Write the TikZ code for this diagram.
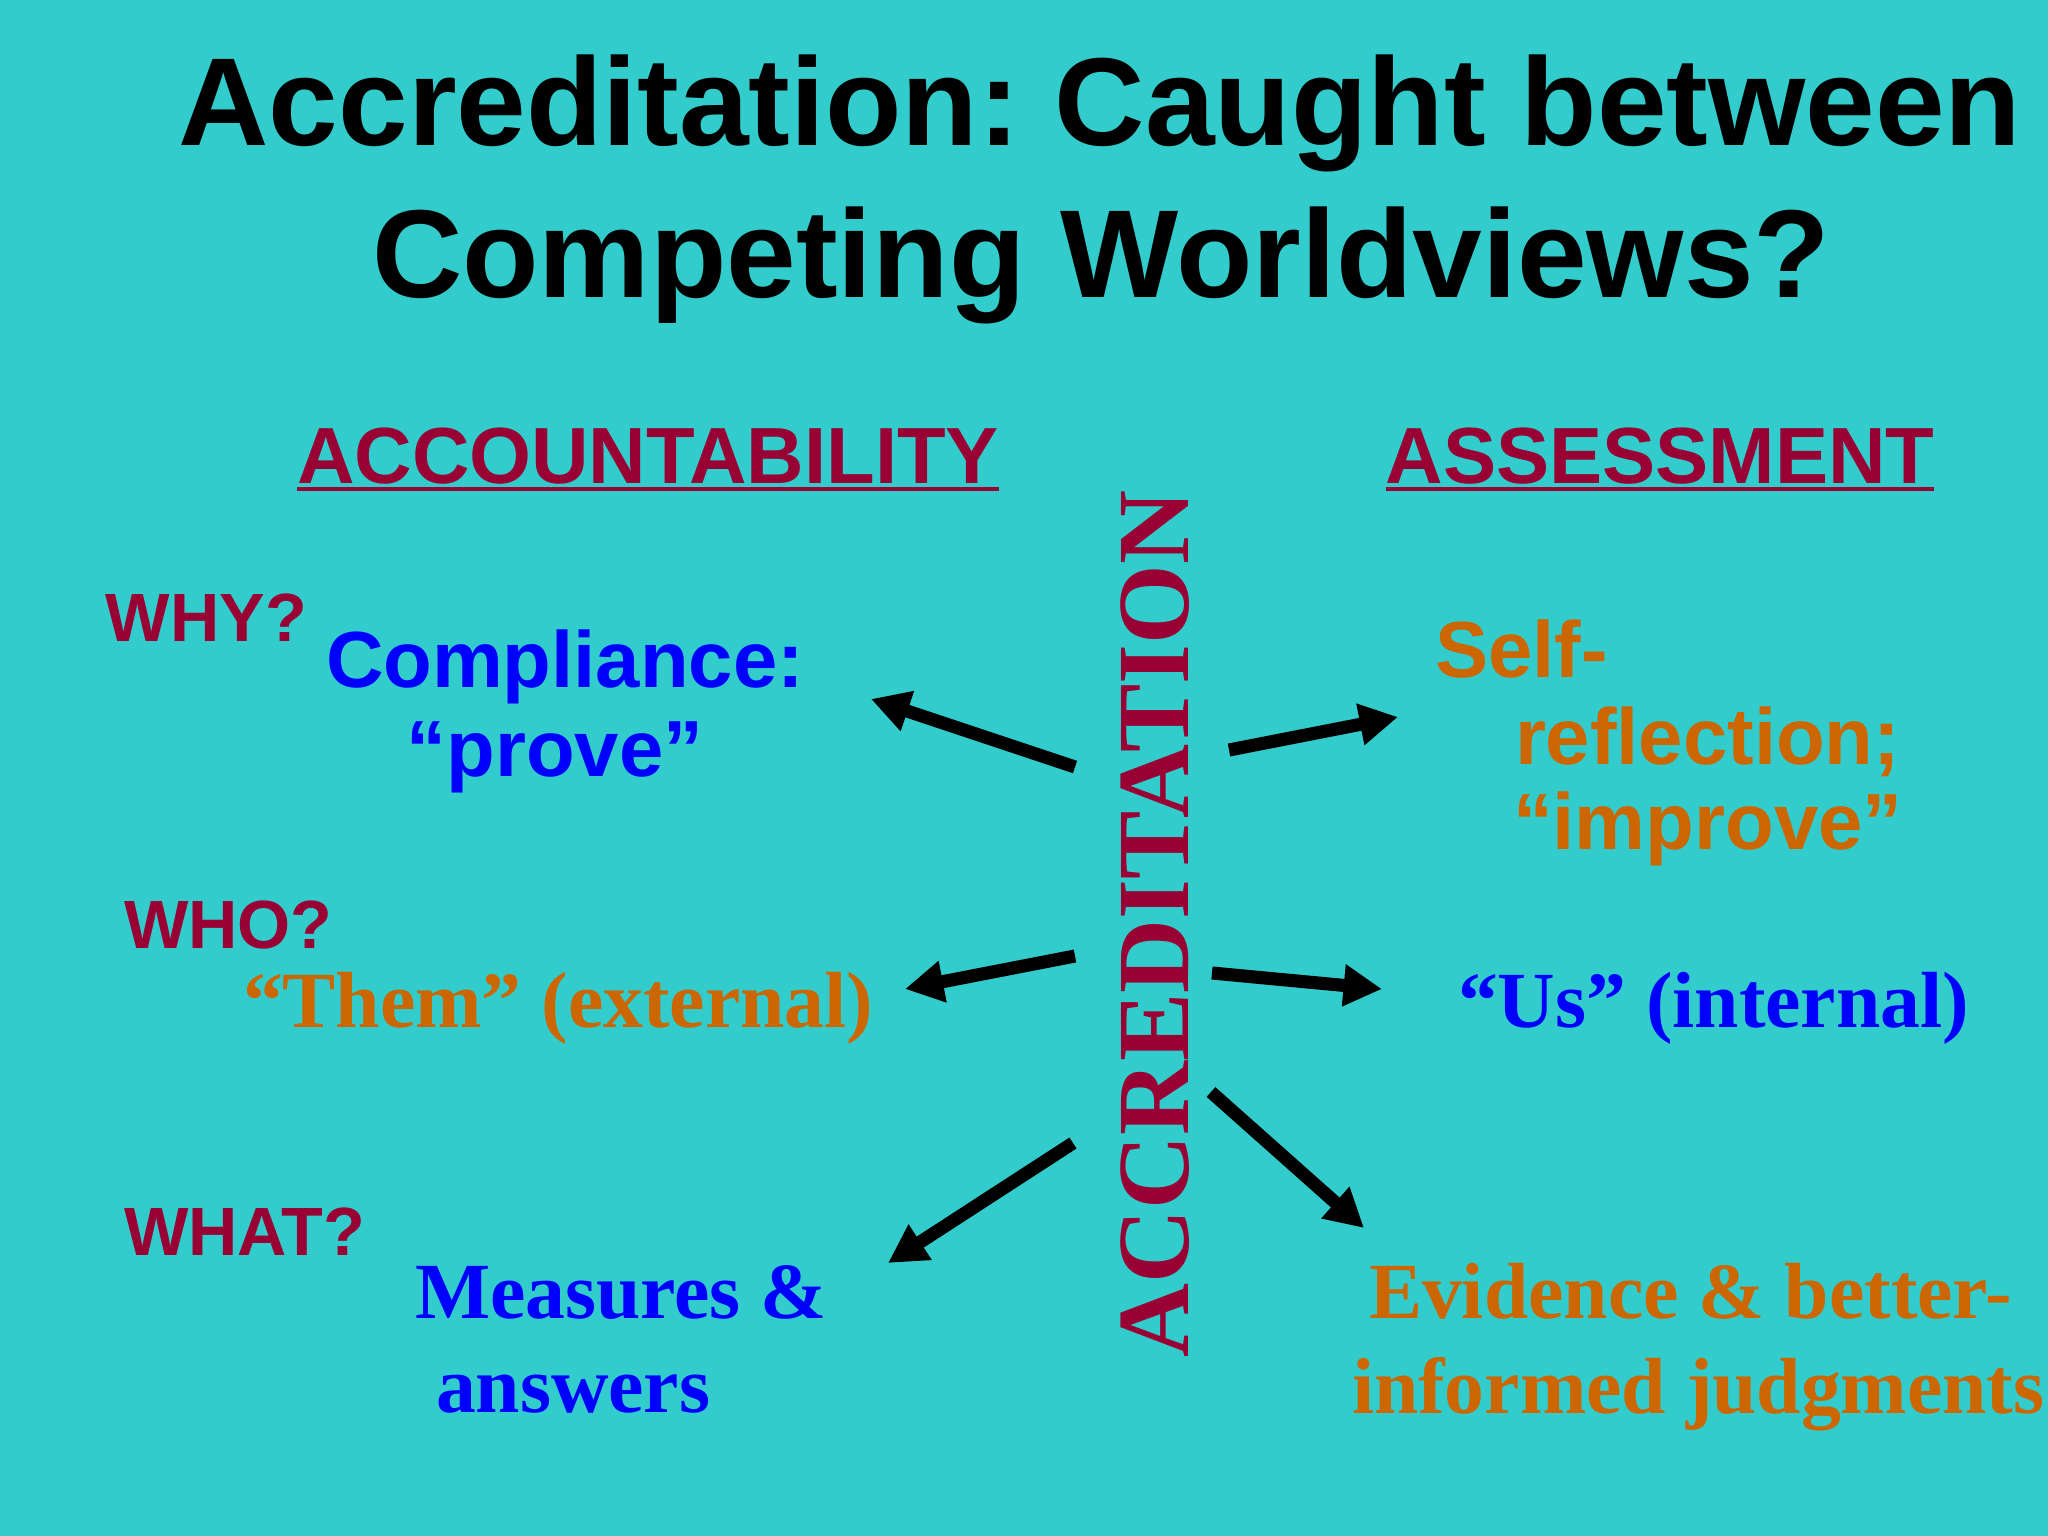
\documentclass[tikz,border=0pt]{standalone}
\usepackage{fontspec}
\setmainfont{Liberation Sans}
\newfontfamily\serifbf{Liberation Serif}
\usetikzlibrary{arrows.meta}
\definecolor{bgc}{HTML}{33CCCC}
\definecolor{crim}{HTML}{990033}
\definecolor{blu}{HTML}{0000FF}
\definecolor{org}{HTML}{CC6600}
\frenchspacing
\tikzset{
  base/.style={inner sep=0pt, outer sep=0pt},
  titletxt/.style={base, font=\fontsize{44bp}{53bp}\selectfont\bfseries, text=black},
  headtxt/.style={base, font=\fontsize{28bp}{34bp}\selectfont\bfseries, text=crim},
  qtxt/.style={base, font=\fontsize{24bp}{29bp}\selectfont\bfseries, text=crim},
  sanstxt/.style={base, font=\fontsize{28bp}{34bp}\selectfont\bfseries},
  seriftxt/.style={base, font=\fontsize{28bp}{34bp}\serifbf\bfseries\selectfont},
  vert/.style={base, font=\fontsize{36bp}{43bp}\serifbf\bfseries\selectfont, text=crim, rotate=90},
  uline/.style={draw=crim, line width=1.2bp},
  arr/.style={draw=black, line width=4.6bp, -{Triangle[length=13.5bp,width=14bp]}}
}
\begin{document}
\begin{tikzpicture}[x=0.3515625bp,y=-0.3515625bp]
\fill[bgc] (0,0) rectangle (2048,1536);
\useasboundingbox (0,0) rectangle (2048,1536);

% title
\node[titletxt, anchor=base] (t1) at (1100,146) {Accreditation: Caught between};
\node[titletxt, anchor=base] (t2) at (1101,297) {Competing Worldviews?};

% column heads
\node[headtxt, anchor=base] (acc) at (648,483) {ACCOUNTABILITY};
\node[headtxt, anchor=base] (ass) at (1660,483) {ASSESSMENT};
\draw[uline] ([yshift=-2.1bp]acc.base west) -- ([yshift=-2.1bp]acc.base east);
\draw[uline] ([yshift=-2.1bp]ass.base west) -- ([yshift=-2.1bp]ass.base east);

% questions
\node[qtxt, anchor=base west] (why) at (106,641) {WHY?};
\node[qtxt, anchor=base west] (who) at (124,948) {WHO?};
\node[qtxt, anchor=base west] (what) at (124,1255) {WHAT?};

% left column
\node[sanstxt, text=blu, anchor=base] (comp) at (565,687) {Compliance:};
\node[sanstxt, text=blu, anchor=base] (prove) at (555,776) {“prove”};
\node[seriftxt, text=org, anchor=base west] (them) at (243,1027) {“Them” (external)};
\node[seriftxt, text=blu, anchor=base west] (meas) at (415,1318) {Measures \&};
\node[seriftxt, text=blu, anchor=base west] (answ) at (436,1412) {answers};

% right column
\node[sanstxt, text=org, anchor=base west] (self) at (1435,677) {Self-};
\node[sanstxt, text=org, anchor=base west] (refl) at (1515,764) {reflection;};
\node[sanstxt, text=org, anchor=base west] (impr) at (1513,849) {“improve”};
\node[seriftxt, text=blu, anchor=base west] (us) at (1458,1027) {“Us” (internal)};
\node[seriftxt, text=org, anchor=base west] (evid) at (1369,1318) {Evidence \& better-};
\node[seriftxt, text=org, anchor=base west] (info) at (1352,1413) {informed judgments};

% vertical word
\node[vert, anchor=base] (accr) at (1188,924) {ACCREDITATION};

% arrows
\coordinate (a1s) at (1075,767); \coordinate (a1e) at (871,699);
\coordinate (a2s) at (1229,750); \coordinate (a2e) at (1398,717);
\coordinate (a3s) at (1075,956); \coordinate (a3e) at (905,989);
\coordinate (a4s) at (1212,973); \coordinate (a4e) at (1382,989);
\coordinate (a5s) at (1073,1143); \coordinate (a5e) at (888,1263);
\coordinate (a6s) at (1211,1092); \coordinate (a6e) at (1364,1228);
\draw[arr] (a1s) -- (a1e);
\draw[arr] (a2s) -- (a2e);
\draw[arr] (a3s) -- (a3e);
\draw[arr] (a4s) -- (a4e);
\draw[arr] (a5s) -- (a5e);
\draw[arr] (a6s) -- (a6e);
\end{tikzpicture}
\end{document}
